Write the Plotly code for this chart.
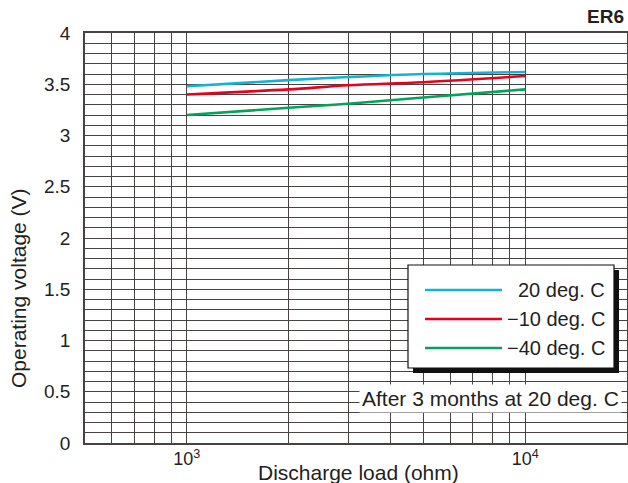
import plotly.graph_objects as go

loads = [1000, 2000, 3000, 5000, 10000]
series_names = ["20 deg. C", "\u221210 deg. C", "\u221240 deg. C"]
v_20 = [3.48, 3.54, 3.57, 3.60, 3.62]
v_m10 = [3.40, 3.45, 3.49, 3.52, 3.58]
v_m40 = [3.20, 3.27, 3.31, 3.37, 3.45]
colors = ["#12b3d3", "#e8001c", "#00a55a"]

x_major = [1000, 10000]
x_major_text = ["10<sup>3</sup>", "10<sup>4</sup>"]
x_minor = [500, 600, 700, 800, 900, 2000, 3000, 4000, 5000, 6000, 7000, 8000, 9000]
y_ticks = [0, 0.5, 1, 1.5, 2, 2.5, 3, 3.5, 4]
y_ticktext = ["0", "0.5", "1", "1.5", "2", "2.5", "3", "3.5", "4"]
x_title = "Discharge load (ohm)"
y_title = "Operating voltage (V)"
note = "After 3 months at 20 deg. C"
corner_label = "ER6"

FONT = "Liberation Sans, Arial, sans-serif"
TXT = "#231f20"
GRID = "#474343"

W, H = 628, 483
PL, PR, PT, PB = 85, 627, 33, 443  # plot box in window pixels
PW, PH = PR - PL, PB - PT

def fx(px):
    return (px - PL) / PW

def fy(py):
    return (PB - py) / PH

fig = go.Figure()
for name, vals, c in zip(series_names, [v_20, v_m10, v_m40], colors):
    fig.add_trace(go.Scatter(x=loads, y=vals, mode="lines", name=name,
                             line=dict(color=c, width=2.6, shape="spline"),
                             showlegend=False))

fig.update_layout(
    width=W, height=H, autosize=False,
    margin=dict(l=PL, r=W - PR, t=PT, b=H - PB, pad=0),
    paper_bgcolor="white", plot_bgcolor="white",
    font=dict(family=FONT, color=TXT, size=18),
    xaxis=dict(type="log", range=[2.69897, 4.30103], automargin=False,
               tickmode="array", tickvals=x_major, ticktext=x_major_text,
               showgrid=True, gridcolor=GRID, gridwidth=1.3,
               minor=dict(tickmode="array", tickvals=x_minor, showgrid=True,
                          gridcolor=GRID, gridwidth=1.3, ticklen=0),
               showline=True, linecolor=GRID, linewidth=1.5, mirror=True,
               ticks="", tickfont=dict(size=18), ticklabelstandoff=-1,
               zeroline=False),
    yaxis=dict(range=[0, 4], automargin=False,
               tickmode="array", tickvals=y_ticks, ticktext=y_ticktext,
               showgrid=True, gridcolor=GRID, gridwidth=1.3,
               minor=dict(dtick=0.1, showgrid=True, gridcolor=GRID, gridwidth=1.3, ticklen=0),
               showline=True, linecolor=GRID, linewidth=1.5, mirror=True,
               ticks="", ticklabelstandoff=9, tickfont=dict(size=19),
               zeroline=False),
)

# Axis titles placed as in the reference
fig.add_annotation(xref="paper", yref="paper", x=fx(358), y=fy(472), text=x_title,
                   showarrow=False, xanchor="center", yanchor="middle",
                   font=dict(size=21, color=TXT))
fig.add_annotation(xref="paper", yref="paper", x=fx(18), y=fy(288), text=y_title,
                   showarrow=False, xanchor="center", yanchor="middle", textangle=-90,
                   font=dict(size=21, color=TXT))

# Legend panel (layout shapes in paper coordinates)
sx, sy = 5 / PW, 5 / PH
fig.add_shape(type="rect", xref="paper", yref="paper", x0=fx(408) + sx, x1=fx(614) + sx,
              y0=fy(368) - sy, y1=fy(265) - sy, fillcolor="#111", line=dict(width=0))
fig.add_shape(type="rect", xref="paper", yref="paper", x0=fx(408), x1=fx(614),
              y0=fy(368), y1=fy(265),
              fillcolor="white", line=dict(color="#111", width=1.2))
for i, (name, c) in enumerate(zip(series_names, colors)):
    yy = fy(290 + i * 29)
    fig.add_shape(type="line", xref="paper", yref="paper",
                  x0=fx(425), x1=fx(502), y0=yy, y1=yy,
                  line=dict(color=c, width=2.6))
    fig.add_annotation(xref="paper", yref="paper", x=fx(607), y=yy,
                       text=name, showarrow=False, xanchor="right", yanchor="middle",
                       font=dict(size=20, color=TXT))

fig.add_annotation(xref="paper", yref="paper", x=fx(622), y=fy(398),
                   text=note, showarrow=False,
                   xanchor="right", yanchor="middle", bgcolor="white", borderpad=2,
                   font=dict(size=21, color=TXT))

fig.add_annotation(xref="paper", yref="paper", x=fx(626), y=fy(17),
                   text="<b>" + corner_label + "</b>", showarrow=False,
                   xanchor="right", yanchor="middle",
                   font=dict(size=19, color=TXT))

fig.write_html("out.html", config={"displayModeBar": False},
               post_script="document.body.style.margin='0';"
                           "document.body.style.overflow='hidden';")
